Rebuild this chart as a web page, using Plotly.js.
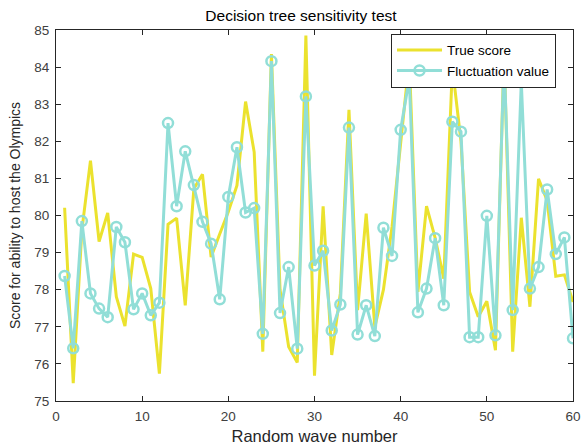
<!DOCTYPE html>
<html>
<head>
<meta charset="utf-8">
<script src="https://cdn.plot.ly/plotly-3.0.1.min.js"></script>
<style>html,body{margin:0;padding:0;background:#fff;}#chart{width:581px;height:445px;}</style>
</head>
<body>
<div id="chart"></div>
<script>
var waveNumber = [1,2,3,4,5,6,7,8,9,10,11,12,13,14,15,16,17,18,19,20,21,22,23,24,25,26,27,28,29,30,31,32,33,34,35,36,37,38,39,40,41,42,43,44,45,46,47,48,49,50,51,52,53,54,55,56,57,58,59,60];
var trueScore = [80.21,75.48,79.6,81.48,79.30,80.07,77.81,77.02,78.96,78.87,78.03,75.74,79.76,79.93,77.58,80.72,81.11,78.88,79.5,80.1,80.81,83.07,81.71,76.33,84.35,78.0,76.46,76.04,84.85,75.68,80.25,76.24,77.9,82.85,77.45,80.05,77.0,78.0,79.7,81.9,84.2,77.94,80.25,79.4,78.3,84.0,82.0,77.94,77.27,77.69,76.37,84.4,76.33,79.94,77.54,80.99,80.4,78.36,78.4,77.67];
var fluctuation = [78.37,76.42,79.85,77.90,77.49,77.26,79.69,79.28,77.47,77.90,77.31,77.65,82.49,80.25,81.73,80.82,79.83,79.24,77.74,80.50,81.84,80.08,80.20,76.81,84.16,77.37,78.61,76.41,83.21,78.65,79.05,76.90,77.60,82.37,76.79,77.58,76.75,79.67,78.91,82.31,83.7,77.39,78.03,79.39,77.58,82.53,82.26,76.72,76.72,79.99,76.77,84.2,77.45,83.59,78.03,78.61,80.70,78.96,79.41,76.69];
var seriesNames = ["True score", "Fluctuation value"];
var titleText = "Decision tree sensitivity test";
var xTitle = "Random wave number";
var yTitle = "Score for ability to host the Olympics";
var xTicks = [0,10,20,30,40,50,60];
var yTicks = [75,76,77,78,79,80,81,82,83,84,85];

var axisColor = '#262626';
var fam = 'Liberation Sans, Arial, sans-serif';
var traces = [
  {x: waveNumber, y: trueScore, name: seriesNames[0], type: 'scatter', mode: 'lines',
   line: {color: '#EBE22E', width: 3}},
  {x: waveNumber, y: fluctuation, name: seriesNames[1], type: 'scatter', mode: 'lines+markers',
   line: {color: '#91DED7', width: 3},
   marker: {symbol: 'circle-open', size: 10, color: '#91DED7', line: {width: 2.5, color: '#91DED7'}}}
];
var axisCommon = {
  showgrid: false, zeroline: false, showline: true, linecolor: axisColor, linewidth: 1,
  mirror: 'ticks', ticks: 'inside', ticklen: 5, tickcolor: axisColor, tickwidth: 1,
  ticklabelstandoff: 3,
  tickfont: {family: fam, size: 13.5, color: '#404040'}
};
var layout = {
  width: 581, height: 445,
  margin: {l: 56, r: 8, t: 30, b: 44},
  paper_bgcolor: '#fff', plot_bgcolor: '#fff',
  showlegend: true,
  title: {text: titleText, x: 0.518, xanchor: 'center', y: 0.977, yanchor: 'top',
          font: {family: fam, size: 15.5, color: '#000'}},
  xaxis: Object.assign({}, axisCommon, {range: [0, 60], tickvals: xTicks,
    title: {text: xTitle, standoff: 9, font: {family: fam, size: 16.5, color: '#262626'}}}),
  yaxis: Object.assign({}, axisCommon, {range: [75, 85], tickvals: yTicks,
    title: {text: yTitle, standoff: 10, font: {family: fam, size: 14, color: '#262626'}}}),
  legend: {x: 0.648, xanchor: 'left', y: 0.99, yanchor: 'top', bgcolor: '#fff',
    bordercolor: axisColor, borderwidth: 1,
    font: {family: fam, size: 13.5, color: '#000'},
    tracegroupgap: 0, itemwidth: 45}
};
Plotly.newPlot('chart', traces, layout, {displayModeBar: false, staticPlot: true});
</script>
</body>
</html>
